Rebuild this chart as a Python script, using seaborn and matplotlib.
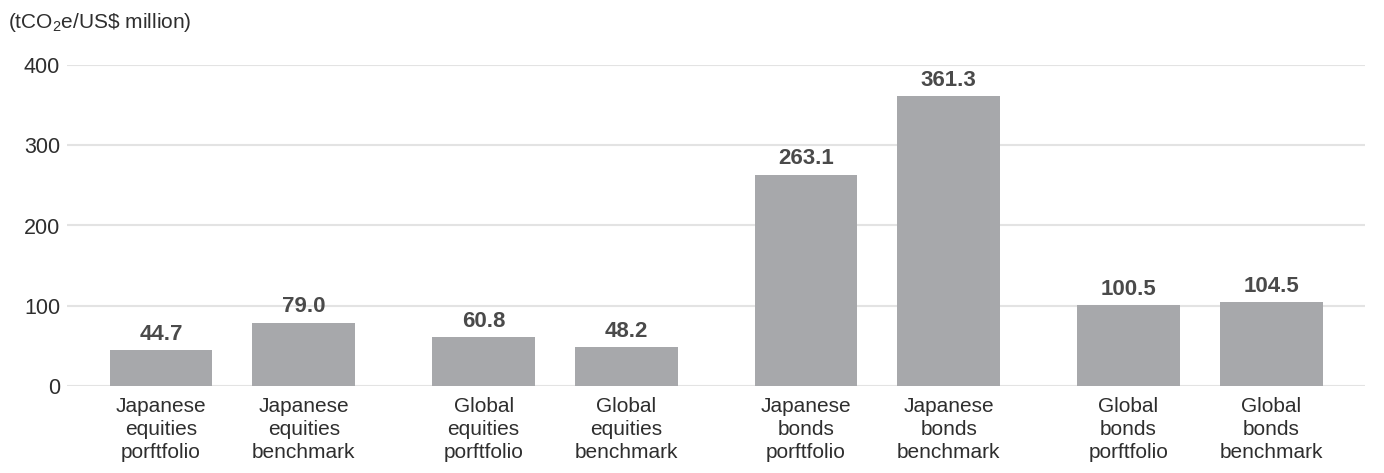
import matplotlib
matplotlib.use("Agg")
import matplotlib.pyplot as plt
import seaborn as sns
import pandas as pd

# Carbon intensity by asset class (tCO2e per US$ million)
asset_classes = ["Japanese equities", "Global equities", "Japanese bonds", "Global bonds"]
kinds = ["porftfolio", "benchmark"]
portfolio_values = [44.7, 60.8, 263.1, 100.5]
benchmark_values = [79.0, 48.2, 361.3, 104.5]
bar_labels = [
    "Japanese\nequities\nporftfolio", "Japanese\nequities\nbenchmark",
    "Global\nequities\nporftfolio", "Global\nequities\nbenchmark",
    "Japanese\nbonds\nporftfolio", "Japanese\nbonds\nbenchmark",
    "Global\nbonds\nporftfolio", "Global\nbonds\nbenchmark",
]
y_ticks = [0, 100, 200, 300, 400]

df = pd.DataFrame({
    "asset": asset_classes * 2,
    "kind": [kinds[0]] * 4 + [kinds[1]] * 4,
    "value": portfolio_values + benchmark_values,
})

sns.set_theme(style="white")
plt.rcParams["font.family"] = ["Liberation Sans", "DejaVu Sans"]
plt.rcParams["mathtext.fontset"] = "custom"
plt.rcParams["mathtext.rm"] = "Liberation Sans"
plt.rcParams["mathtext.it"] = "Liberation Sans"

bar_color = "#a7a8ab"
text_color = "#2e2e2e"
fig = plt.figure(figsize=(13.84, 4.73), dpi=100)
ax = fig.add_axes([67 / 1384, 1 - 386 / 473, (1365 - 67) / 1384, (386 - 65) / 473])

sns.barplot(data=df, x="asset", y="value", hue="kind", order=asset_classes,
            hue_order=kinds, palette=[bar_color, bar_color], width=0.885, gap=0.28,
            saturation=1, legend=False, ax=ax, zorder=2, linewidth=0)

ax.set_ylim(0, 400)
ax.set_xlim(-0.513, 3.512)
ax.set_yticks(y_ticks)
ax.set_yticklabels([str(t) for t in y_ticks], fontsize=15.5, color=text_color)
ax.yaxis.grid(True, color="#e3e3e3", linewidth=1.5, zorder=0)
ax.set_axisbelow(True)
ax.tick_params(axis="y", length=0, pad=5)
ax.tick_params(axis="x", length=0, pad=8)
for s in ax.spines.values():
    s.set_visible(False)
ax.set_xlabel("")
ax.set_ylabel("")

# Per-bar tick labels at the centres of the drawn bars
patches = sorted([p for p in ax.patches if p.get_height() > 0], key=lambda p: p.get_x())
centers = [p.get_x() + p.get_width() / 2 for p in patches]
ax.set_xticks(centers)
ax.set_xticklabels(bar_labels, fontsize=15, color=text_color, linespacing=1.25)

for c in ax.containers:
    ax.bar_label(c, fmt="%.1f", padding=4, fontsize=16, fontweight="bold",
                 color="#4a4a4a", clip_on=False)

fig.text(8 / 1384, 1 - 23 / 473, r"(tCO$_2$e/US\$ million)", fontsize=15,
         color=text_color, va="center", ha="left")

fig.savefig("out.png", dpi=100)
